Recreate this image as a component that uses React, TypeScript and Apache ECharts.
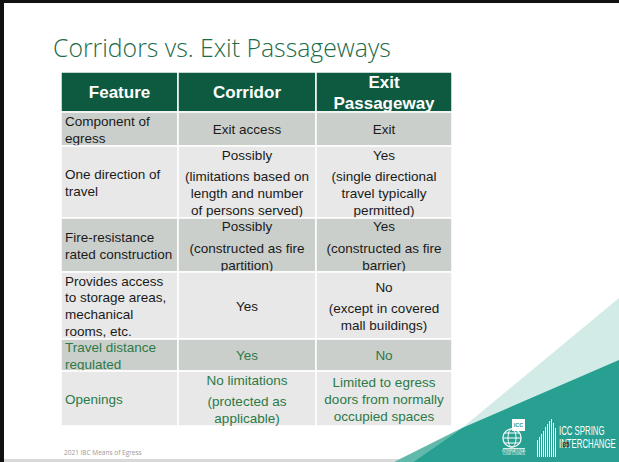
import React, { useEffect, useRef } from "react";
import * as echarts from "echarts";

// ---- content ----
const title = "Corridors vs. Exit Passageways";
const headers = ["Feature", "Corridor", "Exit\nPassageway"];
const features = [
  "Component of\negress",
  "One direction of\ntravel",
  "Fire-resistance\nrated construction",
  "Provides access\nto storage areas,\nmechanical\nrooms, etc.",
  "Travel distance\nregulated",
  "Openings",
];
const corridor = [
  ["Exit access"],
  ["Possibly", "(limitations based on\nlength and number\nof persons served)"],
  ["Possibly", "(constructed as fire\npartition)"],
  ["Yes"],
  ["Yes"],
  ["No limitations", "(protected as\napplicable)"],
];
const exitPassageway = [
  ["Exit"],
  ["Yes", "(single directional\ntravel typically\npermitted)"],
  ["Yes", "(constructed as fire\nbarrier)"],
  ["No", "(except in covered\nmall buildings)"],
  ["No"],
  ["Limited to egress\ndoors from normally\noccupied spaces"],
];
const greenRows = [false, false, false, false, true, true];
const footer = "2021 IBC Means of Egress";
const slideNumber = "85";
const brandLines = ["ICC SPRING", "INTERCHANGE"];

// ---- layout ----
const COL_X = [61, 178, 316, 452];
const ROW_Y = [72, 112, 146, 218, 272, 339, 371, 426];
const LH = 16.7;
const GAP = 5;
const FONT = "'Liberation Sans', Arial, sans-serif";
const HEADER_BG = "#0e5a40";
const DARK_ROW = "#cbcfcb";
const LIGHT_ROW = "#e7e8e7";
const GREEN_TEXT = "#2b7a47";
const BODY_TEXT = "#1a1a1a";

function paragraphTexts(paras: string[], x: number, top: number, bottom: number, align: string, color: string) {
  const lines = paras.map((p) => p.split("\n"));
  const total = lines.reduce((s, l) => s + l.length * LH, 0) + GAP * (lines.length - 1);
  let y = top + (bottom - top - total) / 2 + 0.8;
  const out: any[] = [];
  lines.forEach((pl, pi) => {
    pl.forEach((ln) => {
      out.push({
        type: "text",
        x,
        y: y + LH / 2,
        silent: true,
        style: {
          text: ln,
          fill: color,
          font: `13.5px ${FONT}`,
          align,
          verticalAlign: "middle",
        },
      });
      y += LH;
    });
    if (pi < lines.length - 1) y += GAP;
  });
  return out;
}

function buildGraphics() {
  const g: any[] = [];
  // slide frame
  g.push({ type: "rect", shape: { x: 0, y: 0, width: 619, height: 462 }, style: { fill: "#ffffff" }, silent: true });
  g.push({ type: "rect", shape: { x: 0, y: 459, width: 619, height: 3 }, style: { fill: "#d9d9d9" }, silent: true });

  // decorative triangles bottom right
  g.push({ type: "polygon", shape: { points: [[619, 298], [462, 428], [394, 462], [619, 462]] }, style: { fill: "#d3ebe6" }, silent: true });
  g.push({ type: "polygon", shape: { points: [[462, 428], [394, 462], [413, 462]] }, style: { fill: "#62b8ab" }, silent: true });
  g.push({ type: "polygon", shape: { points: [[619, 360], [462, 428], [413, 462], [619, 462]] }, style: { fill: "#27a091" }, silent: true });

  g.push({ type: "rect", shape: { x: 0, y: 0, width: 4, height: 462 }, style: { fill: "#111111" }, silent: true });
  g.push({ type: "rect", shape: { x: 0, y: 0, width: 619, height: 3 }, style: { fill: "#111111" }, silent: true });

  // title
  g.push({
    type: "text",
    x: 53,
    y: 47,
    silent: true,
    style: { text: title, fill: "#1d6b4a", font: `300 24.8px 'Open Sans', 'Noto Sans', sans-serif`, align: "left", verticalAlign: "middle" },
  });

  // header cells
  for (let c = 0; c < 3; c++) {
    g.push({
      type: "rect",
      silent: true,
      shape: { x: COL_X[c], y: ROW_Y[0], width: COL_X[c + 1] - COL_X[c], height: ROW_Y[1] - ROW_Y[0] },
      style: { fill: HEADER_BG, stroke: "#ffffff", lineWidth: 1.5 },
    });
    const lines = headers[c].split("\n");
    const hl = 21;
    const mid = (ROW_Y[0] + ROW_Y[1]) / 2 + 0.5;
    lines.forEach((ln, i) => {
      g.push({
        type: "text",
        silent: true,
        x: (COL_X[c] + COL_X[c + 1]) / 2,
        y: mid + (i - (lines.length - 1) / 2) * hl,
        style: { text: ln, fill: "#ffffff", font: `bold 17px ${FONT}`, align: "center", verticalAlign: "middle" },
      });
    });
  }

  // body rows
  features.forEach((f, r) => {
    const top = ROW_Y[r + 1];
    const bottom = ROW_Y[r + 2];
    const fill = r % 2 === 0 ? DARK_ROW : LIGHT_ROW;
    for (let c = 0; c < 3; c++) {
      g.push({
        type: "rect",
        silent: true,
        shape: { x: COL_X[c], y: top, width: COL_X[c + 1] - COL_X[c], height: bottom - top },
        style: { fill, stroke: "#ffffff", lineWidth: 1.5 },
      });
    }
    const color = greenRows[r] ? GREEN_TEXT : BODY_TEXT;
    g.push(...paragraphTexts([f], COL_X[0] + 4, top, bottom, "left", color));
    g.push(...paragraphTexts(corridor[r], (COL_X[1] + COL_X[2]) / 2, top, bottom, "center", color));
    g.push(...paragraphTexts(exitPassageway[r], (COL_X[2] + COL_X[3]) / 2, top, bottom, "center", color));
  });

  // footer
  g.push({
    type: "text",
    silent: true,
    x: 64,
    y: 452,
    style: { text: footer, fill: "#9a9a9a", font: `6.5px 'Open Sans', sans-serif`, align: "left", verticalAlign: "middle" },
  });

  // ICC logo (simplified)
  g.push({ type: "rect", silent: true, shape: { x: 512, y: 419, width: 13, height: 12 }, style: { fill: "#ffffff" } });
  g.push({
    type: "text",
    silent: true,
    x: 518.5,
    y: 425,
    style: { text: "ICC", fill: "#27a091", font: `bold 5.5px ${FONT}`, align: "center", verticalAlign: "middle" },
  });
  g.push({ type: "circle", silent: true, shape: { cx: 512, cy: 438, r: 9 }, style: { fill: "none", stroke: "#ffffff", lineWidth: 1.2 } });
  g.push({ type: "ellipse", silent: true, shape: { cx: 512, cy: 438, rx: 4, ry: 9 }, style: { fill: "none", stroke: "#ffffff", lineWidth: 1 } });
  g.push({ type: "line", silent: true, shape: { x1: 503, y1: 438, x2: 521, y2: 438 }, style: { stroke: "#ffffff", lineWidth: 1 } });
  g.push({ type: "line", silent: true, shape: { x1: 505, y1: 433, x2: 519, y2: 433 }, style: { stroke: "#ffffff", lineWidth: 1 } });
  g.push({ type: "line", silent: true, shape: { x1: 505, y1: 443, x2: 519, y2: 443 }, style: { stroke: "#ffffff", lineWidth: 1 } });
  g.push({ type: "rect", silent: true, shape: { x: 503, y: 448, width: 22, height: 0.8 }, style: { fill: "#ffffff" } });
  g.push({
    type: "text",
    silent: true,
    x: 514,
    y: 452,
    style: { text: "INTERNATIONAL\nCODE COUNCIL", fill: "#ffffff", font: `3px ${FONT}`, lineHeight: 3.5, align: "center", verticalAlign: "middle" },
  });

  // building icon (simplified skyline)
  const bars = [
    [537, 440], [539, 437], [541, 434], [543, 431], [545, 427], [547, 424], [549, 421], [551, 419], [553, 423], [555, 428],
  ];
  bars.forEach(([bx, by]) => {
    g.push({ type: "rect", silent: true, shape: { x: bx, y: by, width: 1, height: 457 - by }, style: { fill: "#ffffff" } });
  });

  // brand text (condensed by horizontal scaling around its own left edge)
  brandLines.forEach((t, i) => {
    g.push({
      type: "text",
      silent: true,
      x: 559,
      y: 430 + i * 13,
      scaleX: 0.6,
      style: { text: t, fill: "#ffffff", font: `13px ${FONT}`, align: "left", verticalAlign: "middle" },
    });
  });
  g.push({
    type: "text",
    silent: true,
    x: 566,
    y: 444,
    style: { text: slideNumber, fill: "#333333", font: `bold 6.5px ${FONT}`, align: "center", verticalAlign: "middle" },
  });

  return g;
}

export default function App() {
  const ref = useRef<HTMLDivElement>(null);
  useEffect(() => {
    document.body.style.margin = "0";
    if (!ref.current) return;
    const chart = echarts.init(ref.current, null, { renderer: "svg" });
    chart.setOption({
      animation: false,
      backgroundColor: "#ffffff",
      graphic: { elements: buildGraphics() },
    });
    return () => chart.dispose();
  }, []);
  return <div ref={ref} style={{ width: 619, height: 462 }} />;
}
